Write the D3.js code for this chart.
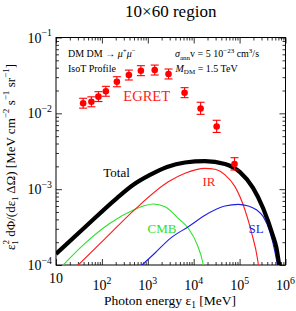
<!DOCTYPE html>
<html>
<head>
<meta charset="utf-8">
<script src="https://cdn.jsdelivr.net/npm/d3@7"></script>
<style>
    body { margin: 0; background: #fff; }
    text { font-family: "Liberation Serif", "Times New Roman", serif; }
</style>
</head>
<body>
<svg id="chart"></svg>
<script>
// EGRET points (energy in MeV, flux)
let egretE    = [39, 59, 84, 122, 212, 387, 707, 1414, 2828, 6325, 14142, 31623, 77460];
let egretFlux = [0.0136, 0.0142, 0.0166, 0.0195, 0.0261, 0.0320, 0.0365, 0.0372, 0.0330, 0.0187, 0.0116, 0.0067, 0.00215];
let egretLo   = [0.0117, 0.0122, 0.0143, 0.0168, 0.0224, 0.0275, 0.0314, 0.0320, 0.0284, 0.0161, 0.0097, 0.0056, 0.00179];
let egretHi   = [0.0158, 0.0165, 0.0193, 0.0227, 0.0304, 0.0372, 0.0425, 0.0433, 0.0384, 0.0218, 0.0140, 0.0081, 0.0026];

// model curves
let totalE    = [10, 38.7, 213, 476, 1117, 2618, 6457, 17600, 48100, 102000, 196000, 324000, 535000, 637000, 733000, 798000];
let totalFlux = [1.40e-4, 2.98e-4, 7.64e-4, 1.135e-3, 1.54e-3, 1.96e-3, 2.25e-3, 2.35e-3, 2.15e-3, 1.68e-3, 1.04e-3, 5.65e-4, 2.41e-4, 1.67e-4, 1.0e-4, 8.1e-5];

let irE    = [30.6, 110, 526, 2800, 6457, 17600, 29100, 48100, 79400, 131000, 184000, 248000, 262000];
let irFlux = [1.0e-4, 2.14e-4, 5.42e-4, 1.25e-3, 1.62e-3, 1.88e-3, 1.83e-3, 1.54e-3, 1.08e-3, 5.31e-4, 2.62e-4, 1.16e-4, 9.1e-5];

let cmbE    = [14.4, 39.4, 150, 526, 869, 1318, 2370, 4610, 7620, 11600, 16200, 17200];
let cmbFlux = [1.0e-4, 1.84e-4, 3.55e-4, 5.42e-4, 6.09e-4, 6.37e-4, 5.87e-4, 4.13e-4, 3.05e-4, 1.93e-4, 1.0e-4, 8.1e-5];

let slE    = [748, 1436, 3050, 7620, 20800, 48100, 93800, 155000, 236000, 328000, 459000, 590000, 687000];
let slFlux = [1.0e-4, 1.44e-4, 2.23e-4, 3.20e-4, 4.81e-4, 6.00e-4, 6.31e-4, 6.00e-4, 5.31e-4, 4.34e-4, 2.72e-4, 1.48e-4, 9.1e-5];

let xTicks = [1e1, 1e2, 1e3, 1e4, 1e5, 1e6];
let yTicks = [1e-1, 1e-2, 1e-3, 1e-4];

let width = 296, height = 311;
let mLeft = 56, mRight = 285.5, mTop = 37.5, mBottom = 265;

let svg = d3.select("#chart").attr("width", width).attr("height", height);

let x = d3.scaleLog().domain([10, 1e6]).range([mLeft, mRight]);
let y = d3.scaleLog().domain([1e-4, 1e-1]).range([mBottom, mTop]);

function rich(sel, parts, fs) {
    let cur = 0;
    parts.forEach(p => {
        let shift = p.sub ? fs * 0.25 : p.sup ? -fs * 0.45 : 0;
        let ts = sel.append("tspan").attr("dy", shift - cur).text(p.t);
        if (p.sub || p.sup) ts.attr("font-size", fs * 0.7);
        if (p.dx) ts.attr("dx", p.dx);
        if (p.it) ts.attr("font-style", "italic");
        cur = shift;
    });
}

// minor tick values
let xMinor = [], yMinor = [];
for (let d = 1; d < 6; d++) for (let k = 2; k < 10; k++) xMinor.push(k * Math.pow(10, d));
for (let d = -4; d < -1; d++) for (let k = 2; k < 10; k++) yMinor.push(k * Math.pow(10, d));

svg.append("defs").append("clipPath").attr("id", "plotclip")
    .append("rect").attr("x", mLeft).attr("y", mTop)
    .attr("width", mRight - mLeft).attr("height", mBottom - mTop);

// axes with inward ticks on all four sides
function addAxis(axisFn, scale, values, size, tx, ty) {
    let g = svg.append("g")
        .attr("transform", `translate(${tx},${ty})`)
        .call(axisFn(scale).tickValues(values).tickSize(size).tickFormat(""));
    g.select(".domain").remove();
    g.selectAll("line").attr("stroke", "#000").attr("stroke-width", 0.8);
}
addAxis(d3.axisBottom, x, xTicks, -6, 0, mBottom);
addAxis(d3.axisBottom, x, xMinor, -3, 0, mBottom);
addAxis(d3.axisTop, x, xTicks, -6, 0, mTop);
addAxis(d3.axisTop, x, xMinor, -3, 0, mTop);
addAxis(d3.axisLeft, y, yTicks, -6, mLeft, 0);
addAxis(d3.axisLeft, y, yMinor, -3, mLeft, 0);
addAxis(d3.axisRight, y, yTicks, -6, mRight, 0);
addAxis(d3.axisRight, y, yMinor, -3, mRight, 0);

svg.append("rect")
    .attr("x", mLeft).attr("y", mTop)
    .attr("width", mRight - mLeft).attr("height", mBottom - mTop)
    .attr("fill", "none").attr("stroke", "#000").attr("stroke-width", 1);

// tick labels
yTicks.forEach(v => {
    let t = svg.append("text")
        .attr("x", mLeft - 4).attr("y", y(v) + 5)
        .attr("text-anchor", "end").attr("font-size", 14);
    rich(t, [{t: "10"}, {t: "\u2212" + Math.round(-Math.log10(v)), sup: true}], 14);
});
xTicks.forEach(v => {
    let p = Math.round(Math.log10(v));
    let t = svg.append("text")
        .attr("x", x(v)).attr("text-anchor", "middle").attr("font-size", 14);
    if (p === 1) {
        t.attr("y", 283).text("10");
    } else {
        t.attr("y", 290);
        rich(t, [{t: "10"}, {t: String(p), sup: true}], 14);
    }
});

// curves
let line = d3.line()
    .x(d => x(d[0]))
    .y(d => y(d[1]))
    .curve(d3.curveMonotoneX);

let plot = svg.append("g").attr("clip-path", "url(#plotclip)");

let curves = [
    {e: cmbE, f: cmbFlux, color: "#2ee02e", w: 1.1},
    {e: irE, f: irFlux, color: "#ff1a1a", w: 1.1},
    {e: slE, f: slFlux, color: "#1f1fe8", w: 1.1},
    {e: totalE, f: totalFlux, color: "#000", w: 4.2}
];
curves.forEach(c => {
    plot.append("path")
        .datum(c.e.map((e, i) => [e, c.f[i]]))
        .attr("d", line)
        .attr("fill", "none")
        .attr("stroke", c.color)
        .attr("stroke-width", c.w);
});

// EGRET data with error bars
let pts = egretE.map((e, i) => ({e: e, f: egretFlux[i], lo: egretLo[i], hi: egretHi[i]}));
let eg = svg.append("g").selectAll("g").data(pts).enter().append("g");
eg.append("line")
    .attr("x1", d => x(d.e)).attr("x2", d => x(d.e))
    .attr("y1", d => y(d.lo)).attr("y2", d => y(d.hi))
    .attr("stroke", "#ff0000").attr("stroke-width", 1.1);
eg.append("line")
    .attr("x1", d => x(d.e) - 4).attr("x2", d => x(d.e) + 4)
    .attr("y1", d => y(d.lo)).attr("y2", d => y(d.lo))
    .attr("stroke", "#ff0000").attr("stroke-width", 1.1);
eg.append("line")
    .attr("x1", d => x(d.e) - 4).attr("x2", d => x(d.e) + 4)
    .attr("y1", d => y(d.hi)).attr("y2", d => y(d.hi))
    .attr("stroke", "#ff0000").attr("stroke-width", 1.1);
eg.append("circle")
    .attr("cx", d => x(d.e)).attr("cy", d => y(d.f))
    .attr("r", 3.3).attr("fill", "#ff0000");

// curve labels
svg.append("text").attr("x", 116.5).attr("y", 177).attr("text-anchor", "middle")
    .attr("font-size", 13).attr("fill", "#000").text("Total");
svg.append("text").attr("x", 209).attr("y", 186).attr("text-anchor", "middle")
    .attr("font-size", 13).attr("fill", "#ff1a1a").text("IR");
svg.append("text").attr("x", 162).attr("y", 233).attr("text-anchor", "middle")
    .attr("font-size", 13).attr("fill", "#2ee02e").text("CMB");
svg.append("text").attr("x", 256).attr("y", 233).attr("text-anchor", "middle")
    .attr("font-size", 13).attr("fill", "#1f1fe8").text("SL");
svg.append("text").attr("x", 146.7).attr("y", 101).attr("text-anchor", "middle")
    .attr("font-size", 14.5).attr("fill", "#ff1a1a").text("EGRET");

// annotations
let a1 = svg.append("text").attr("x", 68).attr("y", 57).attr("font-size", 10);
rich(a1, [{t: "DM DM \u2192 "}, {t: "\u03bc", it: true}, {t: "+", sup: true}, {t: "\u03bc", it: true}, {t: "\u2212", sup: true}], 10);
svg.append("text").attr("x", 68).attr("y", 71.5).attr("font-size", 10).text("IsoT Profile");
let a3 = svg.append("text").attr("x", 175).attr("y", 57).attr("font-size", 10);
rich(a3, [{t: "\u03c3", it: true}, {t: "ann", sub: true}, {t: "v = 5 10"}, {t: "\u221223", sup: true}, {t: " cm"}, {t: "3", sup: true}, {t: "/s"}], 10);
let a4 = svg.append("text").attr("x", 175.5).attr("y", 71.5).attr("font-size", 10);
rich(a4, [{t: "M", it: true}, {t: "DM", sub: true}, {t: " = 1.5 TeV"}], 10);

// title and axis titles
svg.append("text").attr("x", (mLeft + mRight) / 2).attr("y", 17)
    .attr("text-anchor", "middle").attr("font-size", 17).text("10\u00d760 region");

let xt = svg.append("text").attr("x", 170).attr("y", 305)
    .attr("text-anchor", "middle").attr("font-size", 13.5);
rich(xt, [{t: "Photon energy \u03b5"}, {t: "1", sub: true}, {t: " [MeV]"}], 13.5);

let yt = svg.append("text").attr("transform", "translate(15,157) rotate(-90)")
    .attr("text-anchor", "middle").attr("font-size", 13);
rich(yt, [{t: "\u03b5"}, {t: "1", sub: true}, {t: "2", sup: true, dx: -4.5}, {t: " d\u03a6/(d\u03b5"}, {t: "1", sub: true},
          {t: " \u0394\u03a9) [MeV cm"}, {t: "\u22122", sup: true}, {t: " s"}, {t: "\u22121", sup: true},
          {t: " sr"}, {t: "\u22121", sup: true}, {t: "]"}], 13);
</script>
</body>
</html>
